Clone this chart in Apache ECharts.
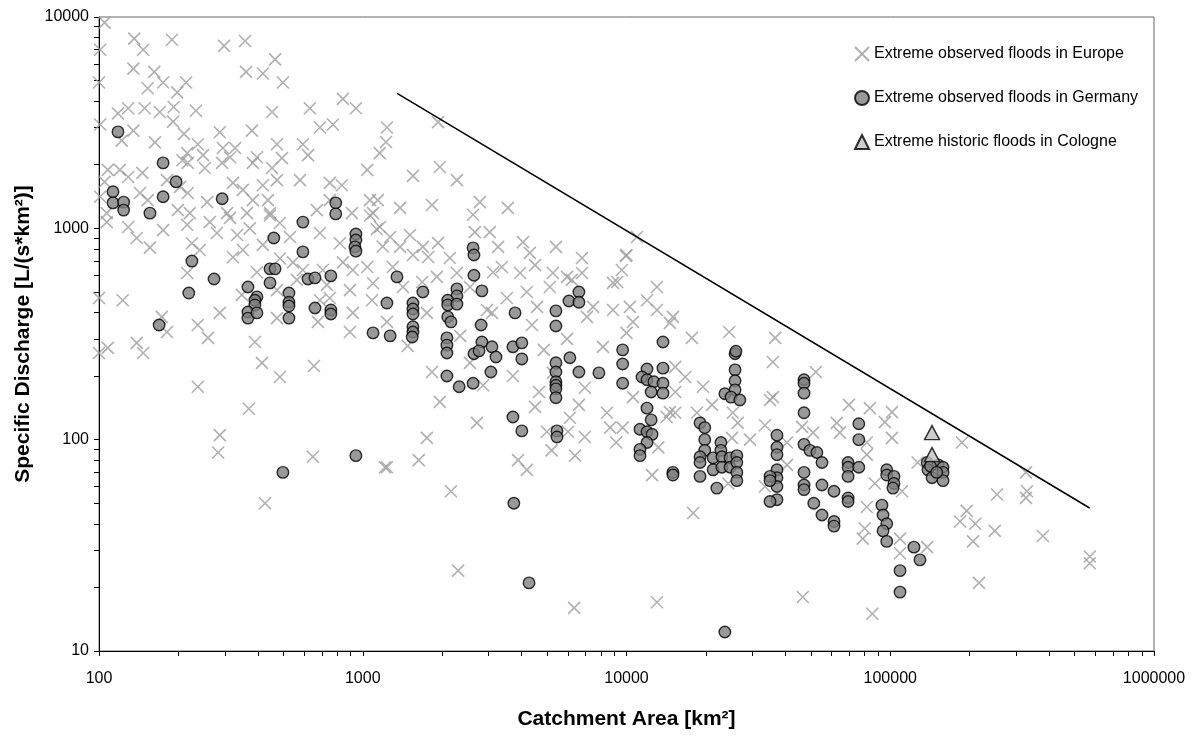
<!DOCTYPE html>
<html><head><meta charset="utf-8">
<script src="https://cdn.jsdelivr.net/npm/echarts@6/dist/echarts.min.js"></script>
<style>html,body{margin:0;padding:0;background:#fff}#c{width:1201px;height:736px}</style>
</head><body><div id="c"></div>
<script>
// [catchment area km², specific discharge L/(s*km²)]
const europeFloods = [
[105,9400],[136,7900],[147,7000],[189,7800],[298,7300],[358,7700],[101,7000],[465,6300],[135,5700],[162,5500],
[361,5500],[418,5400],[498,4900],[100,4900],[153,4600],[175,4900],[214,4900],[198,4400],[192,3750],[129,3700],
[118,3500],[149,3700],[170,3550],[233,3600],[453,3550],[630,3700],[841,4100],[942,3700],[101,3100],[135,2900],
[191,3200],[210,2800],[287,2850],[380,2900],[688,3000],[771,3100],[1235,3000],[163,2550],[122,2600],[237,2500],
[295,2400],[328,2400],[473,2500],[593,2500],[1160,2270],[1225,2560],[216,2270],[248,2220],[314,2170],[397,2170],
[494,2150],[620,2220],[108,1890],[120,1890],[146,1830],[207,2100],[217,2040],[252,1930],[293,2040],[383,2040],
[453,1930],[578,1690],[1040,1890],[105,1660],[129,1750],[181,1690],[203,1570],[322,1640],[351,1520],[418,1600],
[473,1690],[750,1640],[833,1600],[101,1410],[143,1470],[153,1360],[217,1470],[257,1330],[383,1360],[437,1360],
[670,1220],[750,1360],[1065,1360],[1140,1360],[107,1180],[199,1220],[221,1180],[306,1180],[364,1180],[445,1180],
[910,1180],[1094,1180],[107,1070],[129,1015],[175,980],[216,1040],[263,1070],[314,1120],[280,950],[334,930],
[373,1000],[445,1150],[485,1060],[418,835],[530,910],[688,950],[819,850],[1065,1150],[1130,990],[1190,820],
[139,900],[156,810],[225,850],[241,790],[322,730],[351,790],[397,620],[485,720],[544,690],[593,635],
[706,635],[841,690],[917,635],[1040,656],[216,615],[563,570],[731,540],[894,510],[1094,550],[100,468],
[123,457],[348,484],[473,510],[688,457],[750,468],[1084,457],[287,398],[473,376],[917,398],[1235,361],
[237,349],[173,381],[181,323],[259,303],[390,290],[676,361],[894,323],[139,287],[147,257],[100,257],
[108,272],[415,231],[485,198],[653,223],[237,178],[370,140],[287,105],[283,87],[647,83],[426,50],
[1214,74],[1930,3180],[1550,1770],[1960,1950],[2275,1690],[1830,1290],[1385,1250],[2780,1330],[3550,1250],[2620,1160],
[2660,960],[3030,960],[10960,910],[4050,860],[3260,817],[4300,765],[5400,817],[6780,724],[9950,740],[4500,670],
[9600,635],[1162,1014],[1270,910],[1510,930],[1385,817],[1690,817],[1930,853],[1550,748],[1770,732],[2140,724],
[1300,656],[2275,615],[1910,589],[3370,656],[3950,615],[3120,620],[5260,615],[6780,615],[1420,528],[1680,557],
[2550,528],[3520,468],[4190,500],[5120,528],[6200,570],[8890,552],[13050,528],[11960,457],[7470,425],[8890,411],
[10300,425],[13050,411],[15000,381],[2960,411],[4580,425],[1750,398],[1235,74],[1630,80],[1750,102],[1960,151],
[1830,209],[2710,120],[2860,181],[2160,57],[2300,24],[3710,200],[3880,80],[4190,72],[4660,168],[4500,143],
[4860,266],[4990,109],[5200,89],[5950,300],[6100,127],[6000,109],[6380,84],[6330,16],[6600,146],[6950,103],
[6950,176],[8140,275],[8430,134],[8670,114],[9140,97],[9670,114],[10580,159],[12500,68],[13050,17],[13200,92],
[14200,128],[14600,357],[3090,398],[4380,349],[1480,278],[2340,310],[2550,231],[5260,207],[7080,381],[10000,320],
[10580,361],[17700,303],[24500,323],[36600,303],[15300,221],[16700,198],[19500,178],[35900,233],[52200,209],[15300,168],
[35900,159],[21100,146],[18500,134],[25300,134],[26400,120],[29400,100],[25100,102],[35000,154],[33500,117],[40600,97],
[40600,76],[33500,60],[24300,62],[17900,45],[46300,115],[51000,108],[62700,120],[64400,108],[69700,146],[83700,141],
[81500,85],[87400,62],[95400,121],[101500,135],[101500,102],[110800,57],[81500,48],[80000,38],[78700,34],[108900,34],
[108900,29],[127000,78],[46600,18],[85500,15],[15300,134],[187000,97],[327000,70],[327000,53],[330000,57],[254000,55],
[195000,46],[184000,41],[210000,40],[206000,33],[249000,37],[379000,35],[571000,26],[571000,28],[217000,21],[138000,31],
[81500,97],[10000,748],[5950,589],[9220,557],[14600,135]
];
const germanyFloods = [
[118,2860],[175,2040],[196,1660],[113,1490],[113,1320],[124,1330],[124,1220],[175,1410],[293,1380],[156,1180],
[790,1320],[790,1170],[593,1070],[460,900],[593,774],[942,940],[942,880],[934,817],[942,780],[225,700],
[445,643],[465,643],[273,576],[445,552],[620,576],[659,583],[757,596],[219,494],[367,528],[397,474],
[390,457],[390,434],[367,402],[367,376],[397,398],[525,494],[525,447],[525,429],[525,376],[659,420],
[757,411],[757,393],[1235,443],[169,349],[1094,320],[1270,310],[498,70],[942,84],[1348,589],[2620,808],
[2640,748],[2640,600],[1690,500],[2830,506],[1550,443],[1550,415],[1550,393],[2275,517],[2275,479],[2100,457],
[2100,434],[2275,438],[2100,381],[3780,398],[5400,407],[6050,453],[6600,500],[6600,447],[1550,342],[1550,323],
[1540,306],[2160,361],[2085,303],[2085,280],[2085,257],[2085,200],[2320,178],[2620,185],[2810,349],[2830,290],
[3090,275],[2640,255],[2760,263],[3200,246],[3060,209],[3710,275],[4010,287],[4010,241],[3710,128],[4010,110],
[3740,50],[4270,21],[5400,345],[5400,231],[5400,209],[5400,188],[5400,181],[5400,174],[5400,158],[5450,110],
[5450,103],[6100,244],[6600,209],[7860,207],[9670,266],[9670,228],[9670,185],[11960,216],[11450,198],[11960,192],
[12700,188],[12400,168],[13750,290],[13750,218],[13750,185],[13750,166],[11960,141],[12400,124],[11250,112],[11960,109],
[12500,106],[11960,97],[11250,90],[11250,84],[15000,70],[15000,68],[25800,255],[25800,214],[25800,190],[25800,172],
[23600,165],[24900,159],[26900,154],[26000,262],[47100,192],[47100,185],[47100,166],[47100,134],[19000,120],[19800,114],
[19800,100],[19800,89],[19000,83],[19000,78],[19000,67],[21300,82],[21300,72],[22000,59],[22800,97],[22800,89],
[23000,83],[23000,74],[24700,82],[24700,74],[26200,84],[26200,78],[26200,70],[26200,64],[37200,105],[37200,92],
[37200,85],[37200,72],[37200,66],[37200,60],[37200,52],[35000,67],[35000,64],[35000,51],[47100,95],[49600,89],
[52700,87],[55100,78],[47100,70],[47100,61],[47100,58],[55100,61],[51300,50],[55100,44],[61200,57],[61200,41],
[61200,39],[69200,78],[69200,74],[69200,67],[69200,53],[69200,51],[76000,119],[76000,100],[76000,74],[97000,72],
[97000,68],[103300,67],[103300,62],[102400,59],[93000,49],[93900,44],[97000,40],[93900,37],[97000,33],[108900,24],
[108900,19],[123000,31],[129600,27],[23600,12.3],[138000,78],[139000,72],[144000,66],[152000,76],[158500,74],[158500,70],
[158500,64],[142000,75],[150000,70]
];
const cologneFloods = [[144000,108],[144000,85]];
const envelopeArea = [1350, 570000];
const envelopeDischarge = [4350, 47.5];
const xRange = [100, 1000000];
const yRange = [10, 10000];
const seriesNames = ['Extreme observed floods in Europe','Extreme observed floods in Germany','Extreme historic floods in Cologne'];

function logTicks(lo, hi) {
  const out = [];
  for (let d = lo; d < hi; d *= 10) for (let m = 1; m < 10; m++) out.push(Math.log10(d * m));
  out.push(Math.log10(hi));
  return out;
}
const font = '"Liberation Sans", Arial, sans-serif';
const chart = echarts.init(document.getElementById('c'), null, {renderer: 'canvas'});
const crossPath = 'path://M0,0L10,10M10,0L0,10';
chart.setOption({
  animation: false,
  backgroundColor: '#fff',
  grid: {left: 99, right: 47, top: 17, bottom: 85, show: true, borderColor: '#666', borderWidth: 1, outerBoundsMode: 'none'},
  legend: {
    orient: 'vertical', left: 849, top: 41, itemGap: 28, itemWidth: 14, itemHeight: 14,
    data: seriesNames,
    textStyle: {fontSize: 16, color: '#000', fontFamily: font}
  },
  xAxis: [
    {type: 'log', logBase: 10, min: xRange[0], max: xRange[1], position: 'bottom',
     axisLine: {show: true, lineStyle: {color: '#000', width: 1}}, axisTick: {show: false}, splitLine: {show: false},
     axisLabel: {color: '#000', fontSize: 16, fontFamily: font, margin: 20, formatter: v => String(Math.round(v))},
     name: 'Catchment Area [km²]', nameLocation: 'middle', nameGap: 58,
     nameTextStyle: {fontSize: 21, fontWeight: 'bold', color: '#000', fontFamily: font}},
    {type: 'value', min: Math.log10(xRange[0]), max: Math.log10(xRange[1]), position: 'bottom',
     axisLine: {show: false}, axisLabel: {show: false}, splitLine: {show: false},
     axisTick: {show: true, inside: false, length: 5, customValues: logTicks(xRange[0], xRange[1]), lineStyle: {color: '#000'}}}
  ],
  yAxis: [
    {type: 'log', logBase: 10, min: yRange[0], max: yRange[1], position: 'left',
     axisLine: {show: true, lineStyle: {color: '#000', width: 1}}, axisTick: {show: false}, splitLine: {show: false},
     axisLabel: {color: '#000', fontSize: 16, fontFamily: font, margin: 10, formatter: v => String(Math.round(v))},
     name: 'Specific Discharge [L/(s*km²)]', nameLocation: 'middle', nameGap: 55,
     nameTextStyle: {fontSize: 21, fontWeight: 'bold', color: '#000', fontFamily: font}},
    {type: 'value', min: Math.log10(yRange[0]), max: Math.log10(yRange[1]), position: 'left',
     axisLine: {show: false}, axisLabel: {show: false}, splitLine: {show: false},
     axisTick: {show: true, inside: false, length: 5, customValues: logTicks(yRange[0], yRange[1]), lineStyle: {color: '#000'}}}
  ],
  series: [
    {name: seriesNames[0], type: 'scatter', data: europeFloods, symbol: crossPath, symbolSize: 12,
     itemStyle: {color: 'rgba(0,0,0,0)', borderColor: '#9c9c9c', borderWidth: 1.6}, z: 2},
    {name: seriesNames[1], type: 'scatter', data: germanyFloods, symbol: 'circle', symbolSize: 11.5,
     itemStyle: {color: '#808080', borderColor: '#000', borderWidth: 1.4}, z: 3},
    {name: seriesNames[2], type: 'scatter', data: cologneFloods, symbol: 'triangle', symbolSize: [15, 14],
     itemStyle: {color: '#c0c0c0', borderColor: '#000', borderWidth: 1.4}, z: 4},
    {name: 'envelope', type: 'line', data: envelopeArea.map((a, i) => [a, envelopeDischarge[i]]),
     symbol: 'none', lineStyle: {color: '#000', width: 1.5}, z: 5, silent: true}
  ]
});
</script></body></html>
